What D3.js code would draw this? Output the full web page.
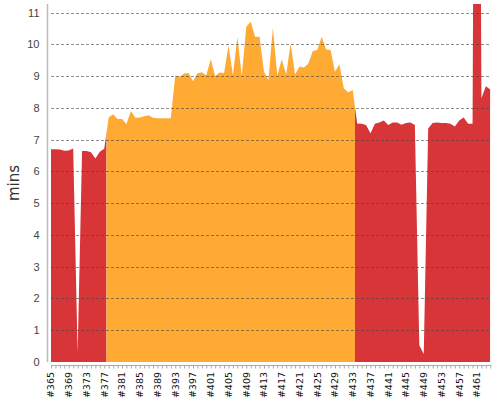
<!DOCTYPE html>
<html>
<head>
<meta charset="utf-8">
<script src="https://cdn.jsdelivr.net/npm/d3@7"></script>
<style>
  html, body { margin: 0; padding: 0; background: #fff; }
  svg { display: block; font-family: "DejaVu Sans", sans-serif; }
</style>
</head>
<body>
<div id="chart"></div>
<script>
// build numbers (x categories)
const builds = [
  365, 366, 367, 368, 369, 370, 371, 372, 373, 374, 375, 376, 377, 378, 379, 380, 381, 382, 383, 384,
  385, 386, 387, 388, 389, 390, 391, 392, 393, 394, 395, 396, 397, 398, 399, 400, 401, 402, 403, 404,
  405, 406, 407, 408, 409, 410, 411, 412, 413, 414, 415, 416, 417, 418, 419, 420, 421, 422, 423, 424,
  425, 426, 427, 428, 429, 430, 431, 432, 433, 434, 435, 436, 437, 438, 439, 440, 441, 442, 443, 444,
  445, 446, 447, 448, 449, 450, 451, 452, 453, 454, 455, 456, 457, 458, 459, 460, 461, 462, 463, 464
];

// build duration in minutes
const minutes = [
  6.70, 6.70, 6.69, 6.65, 6.66, 6.72, 0.30, 6.64, 6.64, 6.60, 6.41, 6.62, 6.71, 7.70, 7.80, 7.65, 7.65, 7.49, 7.90, 7.69,
  7.70, 7.74, 7.77, 7.69, 7.67, 7.67, 7.67, 7.67, 9.02, 8.98, 9.08, 9.10, 8.84, 9.09, 9.12, 9.03, 9.53, 9.00, 9.11, 9.10,
  9.96, 9.03, 10.23, 9.00, 10.55, 10.71, 10.24, 10.24, 9.14, 8.88, 10.52, 9.03, 9.53, 9.05, 10.03, 9.05, 9.30, 9.27, 9.40, 9.79,
  9.82, 10.24, 9.84, 9.82, 9.14, 9.37, 8.61, 8.49, 8.56, 7.51, 7.50, 7.46, 7.20, 7.50, 7.54, 7.60, 7.46, 7.54, 7.54, 7.47,
  7.52, 7.54, 7.46, 0.53, 0.25, 7.35, 7.52, 7.54, 7.52, 7.52, 7.50, 7.41, 7.60, 7.70, 7.50, 7.50, 40.0, 8.30, 8.68, 8.58
];

// build result: F = failed, U = unstable
const results = [
  'F', 'F', 'F', 'F', 'F', 'F', 'F', 'F', 'F', 'F', 'F', 'F', 'F', 'U', 'U', 'U', 'U', 'U', 'U', 'U',
  'U', 'U', 'U', 'U', 'U', 'U', 'U', 'U', 'U', 'U', 'U', 'U', 'U', 'U', 'U', 'U', 'U', 'U', 'U', 'U',
  'U', 'U', 'U', 'U', 'U', 'U', 'U', 'U', 'U', 'U', 'U', 'U', 'U', 'U', 'U', 'U', 'U', 'U', 'U', 'U',
  'U', 'U', 'U', 'U', 'U', 'U', 'U', 'U', 'U', 'F', 'F', 'F', 'F', 'F', 'F', 'F', 'F', 'F', 'F', 'F',
  'F', 'F', 'F', 'F', 'F', 'F', 'F', 'F', 'F', 'F', 'F', 'F', 'F', 'F', 'F', 'F', 'F', 'F', 'F', 'F'
];

const xTickBuilds = [365, 369, 373, 377, 381, 385, 389, 393, 397, 401, 405, 409, 413, 417, 421, 425, 429, 433, 437, 441, 445, 449, 453, 457, 461];
const yTicks = [0, 1, 2, 3, 4, 5, 6, 7, 8, 9, 10, 11];

const colors = { F: '#d73538', U: '#ffab33' };

const width = 500;
const height = 400;
const plot = { left: 51, right: 490.3, top: 4, bottom: 362 };

const data = builds.map((b, i) => ({ build: b, mins: minutes[i], result: results[i] }));

const svg = d3.select('#chart')
  .append('svg')
  .attr('width', width)
  .attr('height', height);

// scales
const x = d3.scalePoint()
  .domain(builds)
  .range([plot.left, plot.right]);

const y = d3.scaleLinear()
  .domain([0, 11.27])
  .range([plot.bottom, plot.top]);

const step = x.step();

// clip everything to the plot area (the spike at #461 runs off the top)
const defs = svg.append('defs');
defs.append('clipPath')
  .attr('id', 'plot-clip')
  .append('rect')
  .attr('x', plot.left)
  .attr('y', plot.top)
  .attr('width', plot.right - plot.left)
  .attr('height', plot.bottom - plot.top);

const area = d3.area()
  .x(d => x(d.build))
  .y0(y(0))
  .y1(d => y(d.mins));

// group consecutive builds with the same result
const runs = [];
data.forEach((d, i) => {
  const last = runs[runs.length - 1];
  if (last && last.result === d.result) {
    last.end = i;
  } else {
    runs.push({ result: d.result, start: i, end: i });
  }
});

const areas = svg.append('g').attr('clip-path', 'url(#plot-clip)');

runs.forEach((run, i) => {
  const x0 = run.start === 0 ? plot.left : x(builds[run.start]) - step / 2;
  const x1 = run.end === builds.length - 1 ? plot.right : x(builds[run.end]) + step / 2;
  defs.append('clipPath')
    .attr('id', `run-${i}`)
    .append('rect')
    .attr('x', x0)
    .attr('y', 0)
    .attr('width', x1 - x0)
    .attr('height', height);

  areas.append('g')
    .attr('clip-path', `url(#run-${i})`)
    .append('path')
    .datum(data)
    .attr('fill', colors[run.result])
    .attr('d', area);
});

// dashed grid lines drawn over the areas
svg.append('g')
  .selectAll('line')
  .data(yTicks.filter(t => t > 0))
  .enter()
  .append('line')
  .attr('x1', plot.left)
  .attr('x2', plot.right)
  .attr('y1', d => Math.round(y(d)) + 0.5)
  .attr('y2', d => Math.round(y(d)) + 0.5)
  .attr('stroke', '#444')
  .attr('stroke-opacity', 0.6)
  .attr('stroke-dasharray', '3,2');

// Y axis
const yAxis = svg.append('g')
  .attr('transform', 'translate(47.5,0)')
  .call(d3.axisLeft(y).tickValues(yTicks).tickSize(0).tickPadding(8));

yAxis.select('.domain')
  .attr('stroke', '#bbb')
  .attr('stroke-width', 1.5)
  .attr('d', `M0,${plot.top}V${plot.bottom}`);

yAxis.selectAll('text')
  .attr('fill', '#444')
  .style('font-size', '11px');

// X axis: a minor tick for every build, labels every 4th build
const xAxis = svg.append('g')
  .attr('transform', 'translate(0,365.5)')
  .call(d3.axisBottom(x).tickSize(3).tickFormat(''));

xAxis.select('.domain')
  .attr('stroke', '#aaa')
  .attr('d', `M${plot.left},0H${plot.right + 1}`);

xAxis.selectAll('.tick line').attr('stroke', '#aaa');

svg.append('g')
  .selectAll('text')
  .data(xTickBuilds)
  .enter()
  .append('text')
  .attr('transform', d => `translate(${x(d)},372) rotate(-90)`)
  .attr('dy', '0.35em')
  .attr('text-anchor', 'end')
  .attr('fill', '#111')
  .style('font-size', '9.5px')
  .text(d => '#' + d);

// Y axis label
svg.append('text')
  .attr('transform', `translate(19,${(plot.top + plot.bottom) / 2}) rotate(-90)`)
  .attr('text-anchor', 'middle')
  .attr('fill', '#333')
  .style('font-size', '15px')
  .text('mins');
</script>
</body>
</html>
